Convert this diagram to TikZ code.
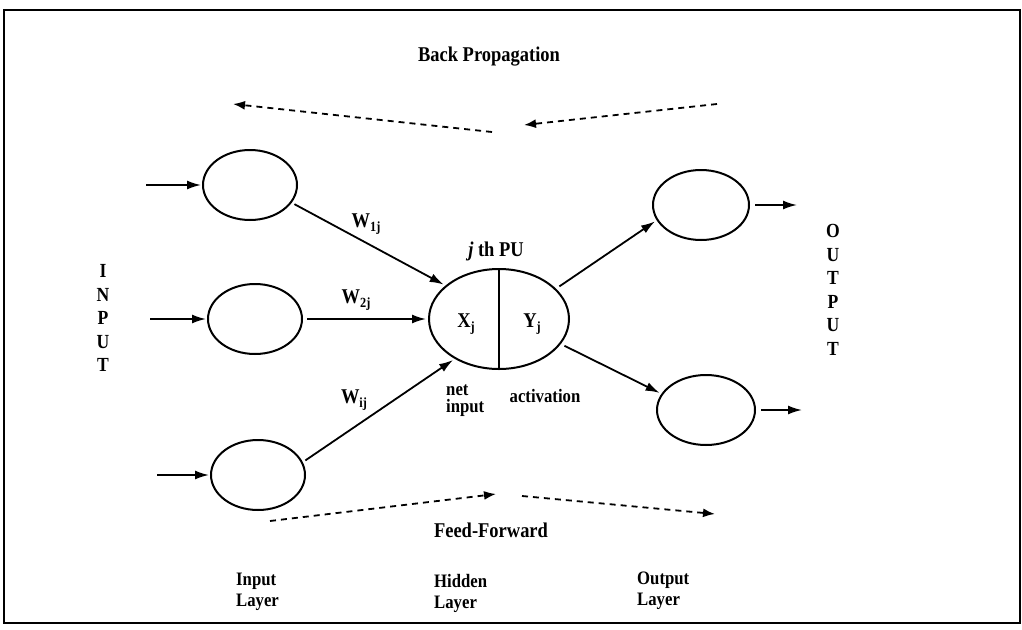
\documentclass[tikz,border=0pt]{standalone}
\usepackage{fontspec}
\setmainfont{Liberation Serif}[FakeStretch=0.88]
\usetikzlibrary{shapes.geometric,arrows.meta}
\newcommand\lowsub[1]{\raisebox{-0.45ex}{\fontsize{14}{14}\selectfont #1}}
\tikzset{
  lbl/.style={font=\bfseries\fontsize{21}{21}\selectfont, inner sep=0pt},
  unit/.style={draw, ellipse, line width=2pt, inner sep=0pt, minimum width=94pt, minimum height=70pt},
  arr/.style={line width=1.8pt, -{Latex[length=14pt,width=9pt]}},
  darr/.style={line width=1.8pt, dash pattern=on 6pt off 5pt, -{Latex[length=12pt,width=9pt]}},
  vletters/.style={lbl, align=center, font=\bfseries\fontsize{20}{23.5}\selectfont}
}
\begin{document}
\begin{tikzpicture}[x=1pt,y=-1pt]
\useasboundingbox (0,0) rectangle (1022,629);
\draw[line width=2.5pt] (4,10) rectangle (1020,623);

% nodes
\node[unit] (i1) at (250,185) {};
\node[unit] (i2) at (255,319) {};
\node[unit] (i3) at (258,475) {};
\node[unit, minimum width=140pt, minimum height=100pt] (hid) at (499,319) {};
\draw[line width=1.6pt] (hid.north) -- (hid.south);
\node[unit, minimum width=96pt] (o1) at (701,205) {};
\node[unit, minimum width=98pt] (o2) at (706,410) {};

% input / output free ends
\coordinate (s1) at (146,185);
\coordinate (s2) at (150,319);
\coordinate (s3) at (157,475);
\coordinate (e1) at (797,205);
\coordinate (e2) at (802,410);
\draw[arr, shorten >=1pt] (s1) -- (i1);
\draw[arr, shorten >=1pt] (s2) -- (i2);
\draw[arr, shorten >=1pt] (s3) -- (i3);
\draw[arr, shorten <=5pt] (o1) -- (e1);
\draw[arr, shorten <=5pt] (o2) -- (e2);

% weights
\draw[arr, shorten <=3pt, shorten >=2pt] (i1.-23) -- (hid.148);
\draw[arr, shorten <=4pt, shorten >=2pt] (i2.east) -- (hid.west);
\draw[arr, shorten <=3pt, shorten >=2pt] (i3.16) -- (hid.222);
\draw[arr, shorten <=4pt, shorten >=2pt] (hid.28) -- (o1.199);
\draw[arr, shorten <=4pt, shorten >=2pt] (hid.-22) -- (o2.160);

% labels
\node[lbl] (w1) at (366,224) {W\lowsub{1j}};
\node[lbl] (w2) at (356,300) {W\lowsub{2j}};
\node[lbl] (wi) at (354,400) {W\lowsub{ij}};
\node[lbl] (pu) at (496,251) {\textit{j} th PU};
\node[lbl] (xj) at (466,324) {X\lowsub{j}};
\node[lbl] (yj) at (532,324) {Y\lowsub{j}};
\node[lbl, align=left, anchor=west, font=\bfseries\fontsize{19}{17}\selectfont] (net) at (446,401) {net\\input};
\node[lbl, font=\bfseries\fontsize{19}{19}\selectfont] (act) at (545,396) {activation};

\node[vletters] (inp) at (103,318) {I\\N\\P\\U\\T};
\node[vletters] (outp) at (833,290) {O\\U\\T\\P\\U\\T};

\node[lbl] (bp) at (489,57) {Back Propagation};
\node[lbl] (ff) at (491,530) {Feed-Forward};

\node[lbl, align=left, anchor=west, font=\bfseries\fontsize{19}{21}\selectfont] (il) at (236,592) {Input\\Layer};
\node[lbl, align=left, anchor=west, font=\bfseries\fontsize{19}{21}\selectfont] (hl) at (434,593) {Hidden\\Layer};
\node[lbl, align=left, anchor=west, font=\bfseries\fontsize{19}{21}\selectfont] (ol) at (637,591) {Output\\Layer};

% dashed propagation arrows
\coordinate (b1s) at (492,132);
\coordinate (b1e) at (233,104);
\coordinate (b2s) at (717,104);
\coordinate (b2e) at (524,125);
\coordinate (f1s) at (270,521);
\coordinate (f1e) at (496,494);
\coordinate (f2s) at (522,496);
\coordinate (f2e) at (715,514);
\draw[darr] (b1s) -- (b1e);
\draw[darr] (b2s) -- (b2e);
\draw[darr] (f1s) -- (f1e);
\draw[darr] (f2s) -- (f2e);
\end{tikzpicture}
\end{document}
